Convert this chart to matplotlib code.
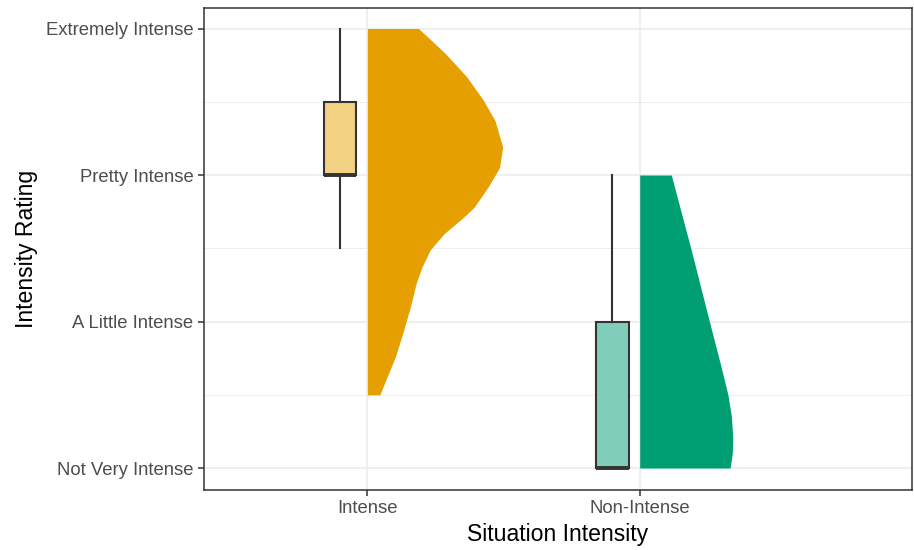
import matplotlib.pyplot as plt
import numpy as np

# categories
groups = ["Intense", "Non-Intense"]
rating_labels = ["Not Very Intense", "A Little Intense", "Pretty Intense", "Extremely Intense"]
colors = ["#E69F00", "#009E73"]
box_fills = ["#F3D182", "#80CEB9"]

# boxplot summary (rating scale 1..4)
whislo = [2.5, 1.0]
q1 = [3.0, 1.0]
med = [3.0, 1.0]
q3 = [3.5, 2.0]
whishi = [4.0, 3.0]

# half-violin outlines: rating level and half width
vio_y_intense = [4.0, 3.83, 3.67, 3.51, 3.37, 3.19, 3.05, 2.92, 2.78, 2.71, 2.60,
                 2.49, 2.37, 2.26, 2.10, 1.94, 1.76, 1.62, 1.51, 1.50]
vio_w_intense = [0.188, 0.286, 0.365, 0.426, 0.469, 0.497, 0.485, 0.444, 0.392, 0.352, 0.282,
                 0.231, 0.200, 0.179, 0.158, 0.133, 0.103, 0.072, 0.048, 0.046]
vio_y_non = [3.0, 2.49, 2.0, 1.69, 1.50, 1.35, 1.2, 1.1, 1.0]
vio_w_non = [0.116, 0.189, 0.256, 0.299, 0.324, 0.337, 0.342, 0.340, 0.332]

plt.rcParams['font.family'] = ['Liberation Sans', 'DejaVu Sans']

fig = plt.figure(figsize=(9.14, 5.5), dpi=100)
ax = fig.add_axes([204 / 914, 60 / 550, 708 / 914, 482 / 550])

# grid (theme_bw like)
for yv in [1, 2, 3, 4]:
    ax.axhline(yv, color="#EBEBEB", lw=1.1, zorder=0)
for yv in [1.5, 2.5, 3.5]:
    ax.axhline(yv, color="#EBEBEB", lw=0.6, zorder=0)
for xv in [1, 2]:
    ax.axvline(xv, color="#EBEBEB", lw=1.1, zorder=0)

# half violins
for i, (vy, vw) in enumerate([(vio_y_intense, vio_w_intense), (vio_y_non, vio_w_non)]):
    pos = i + 1
    vy = np.array(vy)
    vw = np.array(vw)
    ax.fill_betweenx(vy, pos, pos + vw, color=colors[i], lw=0, zorder=2)

# boxplots
stats = []
for i in range(2):
    stats.append(dict(whislo=whislo[i], q1=q1[i], med=med[i], q3=q3[i], whishi=whishi[i], fliers=[]))
bp = ax.bxp(stats, positions=[0.9, 1.9], widths=0.12, patch_artist=True, showcaps=False,
            boxprops=dict(edgecolor="#333333", lw=1.5),
            whiskerprops=dict(color="#333333", lw=1.5),
            medianprops=dict(color="#333333", lw=2.8, solid_capstyle="butt"),
            manage_ticks=False, zorder=3)
for patch, fc in zip(bp["boxes"], box_fills):
    patch.set_facecolor(fc)

ax.set_xlim(0.4, 3.0)
ax.set_ylim(0.85, 4.14)
ax.set_xticks([1, 2])
ax.set_xticklabels(groups)
ax.set_yticks([1, 2, 3, 4])
ax.set_yticklabels(rating_labels)
ax.tick_params(axis="both", colors="#333333", labelcolor="#4D4D4D", labelsize=13.3, length=4, width=1.1)

for s in ax.spines.values():
    s.set_color("#333333")
    s.set_linewidth(1.1)

ax.set_xlabel("Situation Intensity", fontsize=16.6)
ax.set_ylabel("Intensity Rating", fontsize=16.6)
ax.xaxis.set_label_coords(0.5, -0.068)
ax.yaxis.set_label_coords(-0.235, 0.5)

fig.savefig("out.png", dpi=100)
